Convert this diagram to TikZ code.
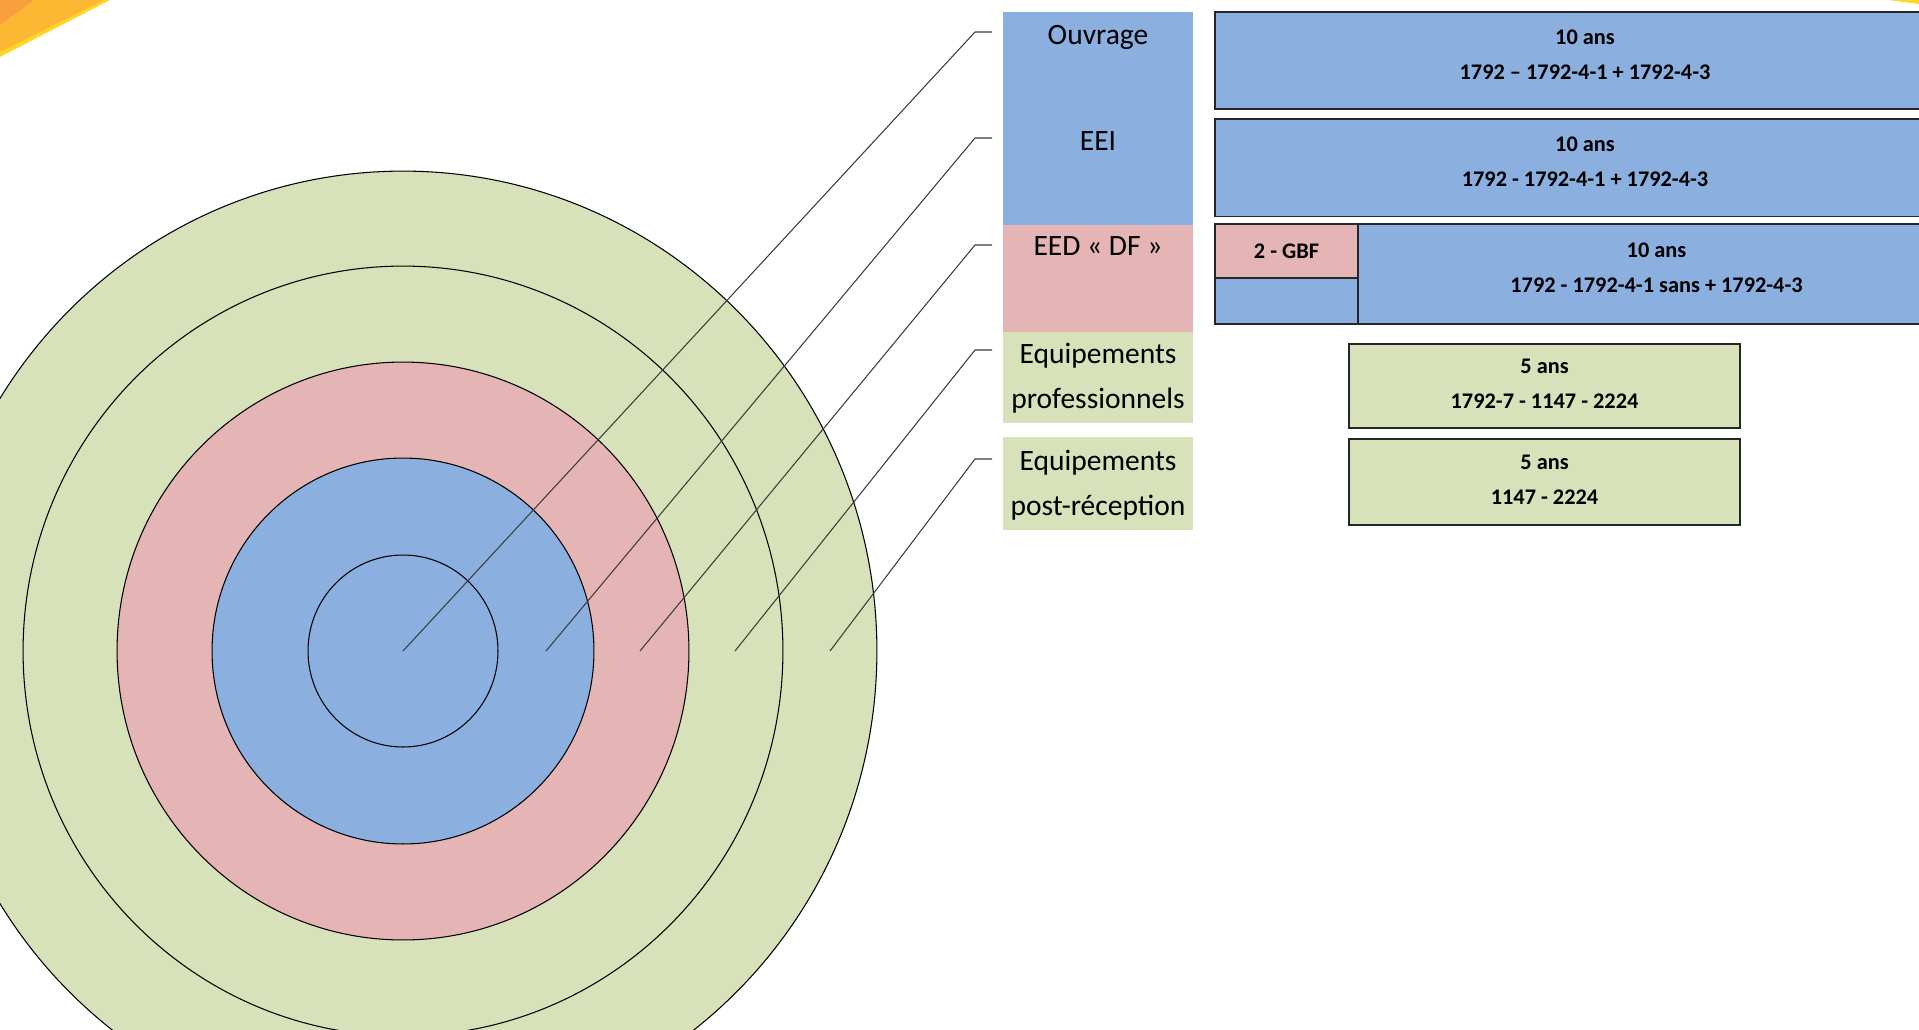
\documentclass[tikz,border=0pt]{standalone}
\usepackage{fontspec}
\setmainfont{Carlito}
\usepackage{tikz}
\definecolor{ringBlue}{RGB}{139,176,224}
\definecolor{ringPink}{RGB}{229,181,181}
\definecolor{ringGreen}{RGB}{215,225,186}
\definecolor{cornerOrange}{RGB}{248,160,62}
\definecolor{cornerAmber}{RGB}{252,184,50}
\definecolor{cornerYellow}{RGB}{255,214,42}
\definecolor{leaderGray}{RGB}{60,60,60}

\begin{document}
\begin{tikzpicture}[x=0.02cm, y=-0.02cm]
		\clip (0,0) rectangle (1919,1029);

		% Corner
		\fill[cornerYellow] (0,0) -- (110,0) -- (0,57) -- cycle;
		\fill[cornerAmber] (0,0) -- (104,0) -- (0,52) -- cycle;
		\fill[cornerOrange] (0,0) -- (34,0) -- (0,25) -- cycle;
		\fill[cornerYellow] (1888,0) -- (1919,0) -- (1919,4) -- cycle;

		% Rings
		\begin{scope}[draw=black, line width=0.6pt]
			\filldraw[fill=ringGreen] (403,651) ellipse (9.48cm and 9.6cm);
			\draw (403,651) ellipse (7.6cm and 7.7cm);
			\filldraw[fill=ringPink] (403,651) ellipse (5.72cm and 5.78cm);
			\filldraw[fill=ringBlue] (403,651) ellipse (3.82cm and 3.86cm);
			\draw (403,651) ellipse (1.9cm and 1.92cm);
		\end{scope}

		% Ring points and knees
		\coordinate (r1) at (403,651);
		\coordinate (r2) at (546,651);
		\coordinate (r3) at (640,651);
		\coordinate (r4) at (735,651);
		\coordinate (r5) at (830,651);
		\coordinate (k1) at (975,32);
		\coordinate (k2) at (975,138);
		\coordinate (k3) at (975,245);
		\coordinate (k4) at (975,350);
		\coordinate (k5) at (975,459);
		\coordinate (t1) at (992,32);
		\coordinate (t2) at (992,138);
		\coordinate (t3) at (992,245);
		\coordinate (t4) at (992,350);
		\coordinate (t5) at (992,459);

		% Column
		\fill[ringBlue] (1003,12) rectangle (1193,225);
		\fill[ringPink] (1003,225) rectangle (1193,332);
		\fill[ringGreen] (1003,332) rectangle (1193,423);
		\fill[ringGreen] (1003,437) rectangle (1193,530);

		% Set names
		\begin{scope}[every node/.style={align=center, inner sep=0pt, font=\fontsize{16.8}{25.6}\selectfont}]
			\node (ouvrage) at (1098,37) {Ouvrage};
			\node (eei) at (1098,141) {EEI};
			\node (eed) at (1098,246) {EED « DF »};
			\node (pro) at (1098,378) {Equipements\\professionnels};
			\node (post) at (1098,485) {Equipements\\post-réception};
		\end{scope}

		% Leaders
		\begin{scope}[draw=leaderGray, line width=0.6pt]
			\draw (r1) -- (k1) -- (t1);
			\draw (r2) -- (k2) -- (t2);
			\draw (r3) -- (k3) -- (t3);
			\draw (r4) -- (k4) -- (t4);
			\draw (r5) -- (k5) -- (t5);
		\end{scope}

		% Duration boxes
		\begin{scope}[every node/.style={draw=black!85, line width=1pt, inner sep=0pt}]
			\node[fill=ringBlue, minimum width=14.8cm, minimum height=1.94cm] (dur1) at (1585,60.5) {};
			\node[fill=ringBlue, minimum width=14.8cm, minimum height=1.95cm] (dur2) at (1585,167.8) {};
			\node[fill=ringPink, minimum width=2.86cm, minimum height=1.08cm] (gbf) at (1286.5,251) {};
			\node[fill=ringBlue, minimum width=2.86cm, minimum height=0.92cm] (gbfb) at (1286.5,301) {};
			\node[fill=ringBlue, minimum width=11.94cm, minimum height=2cm] (dur3) at (1656.5,274) {};
			\node[fill=ringGreen, minimum width=7.82cm, minimum height=1.68cm] (dur4) at (1544.5,386) {};
			\node[fill=ringGreen, minimum width=7.82cm, minimum height=1.72cm] (dur5) at (1544.5,482) {};
		\end{scope}

		% Duration texts
		\begin{scope}[every node/.style={align=center, inner sep=0pt, font=\bfseries\fontsize{12.7}{19.8}\selectfont}]
			\node (dur1t) at ([yshift=3.4pt]dur1.center) {10 ans\\1792 – 1792-4-1 + 1792-4-3};
			\node (dur2t) at ([yshift=3.4pt]dur2.center) {10 ans\\1792 - 1792-4-1 + 1792-4-3};
			\node (gbft) at (gbf.center) {2 - GBF};
			\node (dur3t) at ([yshift=3.4pt]dur3.center) {10 ans\\1792 - 1792-4-1 sans + 1792-4-3};
			\node (dur4t) at ([yshift=1.2pt]dur4.center) {5 ans\\1792-7 - 1147 - 2224};
			\node (dur5t) at ([yshift=1.2pt]dur5.center) {5 ans\\1147 - 2224};
		\end{scope}
\end{tikzpicture}
\end{document}
